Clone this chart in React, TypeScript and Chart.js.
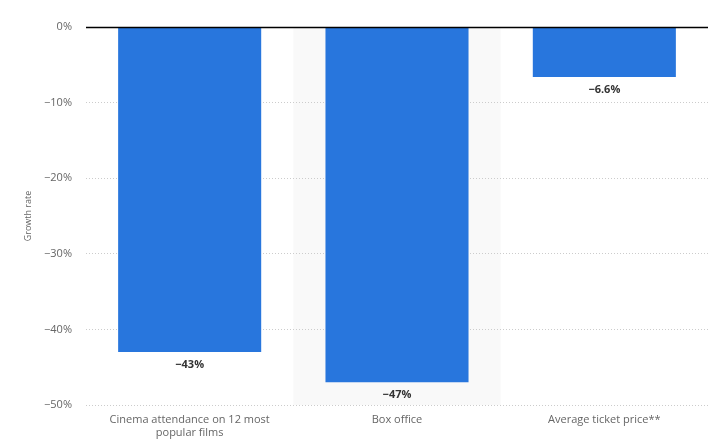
import React, { useEffect, useRef } from "react";
import { Chart, registerables } from "chart.js";

Chart.register(...registerables);

const categories: (string | string[])[] = [
  ["Cinema attendance on 12 most", "popular films"],
  "Box office",
  "Average ticket price**",
];
const growthValues = [-43, -47, -6.6];
const valueLabels = ["\u221243%", "\u221247%", "\u22126.6%"];
const highlightIndex = 1;

const fmt = (v: number) => (v === 0 ? "0%" : "\u2212" + Math.abs(v) + "%");

export default function App() {
  const ref = useRef<HTMLCanvasElement>(null);
  useEffect(() => {
    document.body.style.margin = "0";
    const canvas = ref.current!;
    const bandPlugin = {
      id: "band",
      beforeDraw(chart: any) {
        const { ctx, chartArea, scales } = chart;
        const x = scales.x;
        const w = (x.right - x.left) / categories.length;
        const cx = x.getPixelForValue(highlightIndex);
        ctx.save();
        ctx.fillStyle = "#f9f9f9";
        ctx.fillRect(cx - w / 2, chartArea.top, w, chartArea.bottom - chartArea.top);
        ctx.restore();
      },
    };
    const overlayPlugin = {
      id: "overlay",
      afterDatasetsDraw(chart: any) {
        const { ctx, chartArea, scales } = chart;
        const y0 = scales.y.getPixelForValue(0);
        ctx.save();
        ctx.strokeStyle = "#000";
        ctx.lineWidth = 1.5;
        ctx.beginPath();
        ctx.moveTo(chartArea.left, y0 + 0.5);
        ctx.lineTo(chartArea.right, y0 + 0.5);
        ctx.stroke();
        const meta = chart.getDatasetMeta(0);
        ctx.font = "bold 11px 'Open Sans'";
        ctx.fillStyle = "#333";
        ctx.textAlign = "center";
        ctx.textBaseline = "top";
        meta.data.forEach((el: any, i: number) => {
          ctx.fillText(valueLabels[i], el.x, el.y + 7);
        });
        ctx.restore();
      },
    };
    const chart = new Chart(canvas, {
      type: "bar",
      data: {
        labels: categories as any,
        datasets: [
          {
            data: growthValues,
            backgroundColor: "#2876dd",
            categoryPercentage: 1,
            barPercentage: 0.69,
          },
        ],
      },
      options: {
        animation: false,
        responsive: false,
        layout: { padding: { top: 27, right: 13, left: 0, bottom: 0 } },
        plugins: { legend: { display: false }, tooltip: { enabled: false } },
        scales: {
          x: {
            grid: { display: false },
            border: { display: false },
            ticks: {
              color: "#666",
              font: { family: "'Open Sans'", size: 11, lineHeight: 1.15 },
              padding: 1,
              maxRotation: 0,
              autoSkip: false,
            },
            afterFit(scale: any) {
              scale.height = 43;
            },
          },
          y: {
            min: -50,
            max: 0,
            ticks: {
              stepSize: 10,
              color: "#666",
              font: { family: "'Open Sans'", size: 11 },
              padding: 14,
              callback: (v: any) => fmt(Number(v)),
            },
            grid: { color: "#cccccc", drawTicks: false, lineWidth: 1 },
            border: { display: false, dash: [1, 2] },
            title: {
              display: true,
              text: "Growth rate",
              color: "#666",
              font: { family: "'Open Sans'", size: 9 },
              padding: { top: 23, bottom: 0 },
            },
            afterFit(scale: any) {
              scale.width = 86;
            },
          },
        },
      },
      plugins: [bandPlugin, overlayPlugin],
    });
    return () => chart.destroy();
  }, []);
  return <canvas ref={ref} width={721} height={448} style={{ display: "block" }} />;
}
